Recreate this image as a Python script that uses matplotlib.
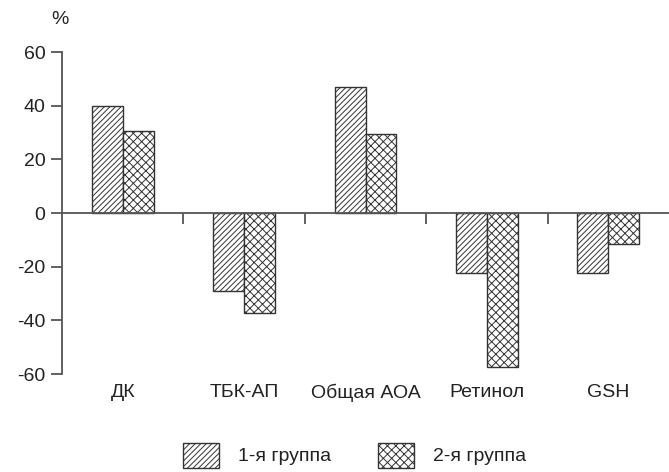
import matplotlib.pyplot as plt
import numpy as np
from matplotlib.patches import Patch

categories = ['ДК', 'ТБК-АП', 'Общая АОА', 'Ретинол', 'GSH']
group1 = [40, -29, 47, -22.5, -22.5]
group2 = [30.5, -37.3, 29.3, -57.4, -11.7]
series_names = ['1-я группа', '2-я группа']

plt.rcParams['font.family'] = ['Liberation Sans', 'DejaVu Sans']
plt.rcParams['axes.unicode_minus'] = False
plt.rcParams['hatch.linewidth'] = 0.7
plt.rcParams['hatch.color'] = '#222222'

fig = plt.figure(figsize=(6.69, 4.72), dpi=100)
ax = fig.add_axes([0.0927, 0.2076, 0.9073, 0.6822])

axis_color = '#555555'
text_color = '#222222'
x = np.arange(len(categories)) + 0.5
w = 0.255

ax.bar(x - w / 2, group1, width=w, facecolor='white', edgecolor='#333333',
       linewidth=1.0, hatch='//////', zorder=2)
ax.bar(x + w / 2, group2, width=w, facecolor='white', edgecolor='#333333',
       linewidth=1.0, hatch='xxxx', zorder=2)

ax.set_xlim(0, 5)
ax.set_ylim(-60, 60)

# spines
for s in ['top', 'right']:
    ax.spines[s].set_visible(False)
ax.spines['left'].set_color(axis_color)
ax.spines['left'].set_linewidth(1.3)
ax.spines['bottom'].set_position(('data', 0))
ax.spines['bottom'].set_color(axis_color)
ax.spines['bottom'].set_linewidth(1.3)
ax.spines['bottom'].set_zorder(3)

ax.set_yticks([-60, -40, -20, 0, 20, 40, 60])
ax.tick_params(axis='y', direction='out', length=8, width=1.3, color=axis_color,
               labelsize=14, pad=4, labelcolor=text_color)
ax.set_xticks([1, 2, 3, 4])
ax.set_xticklabels([])
ax.tick_params(axis='x', direction='out', length=8, width=1.3, color=axis_color)

# category labels below the plot
for xi, name in zip(x, categories):
    ax.text(xi, -0.058, name, transform=ax.get_xaxis_transform(),
            ha='center', va='center', fontsize=14, color=text_color)

fig.text(0.09, 0.958, '%', ha='center', va='center', fontsize=14, color=text_color)

handles = [Patch(facecolor='white', edgecolor='#333333', hatch='//////', linewidth=1.0),
           Patch(facecolor='white', edgecolor='#333333', hatch='xxxx', linewidth=1.0)]
fig.legend(handles, series_names, loc='center', bbox_to_anchor=(0.53, 0.036),
           ncol=2, frameon=False, fontsize=14, handlelength=1.85, handleheight=1.6,
           handletextpad=1.0, columnspacing=2.4, labelcolor=text_color)

fig.savefig('out.png', dpi=100)
